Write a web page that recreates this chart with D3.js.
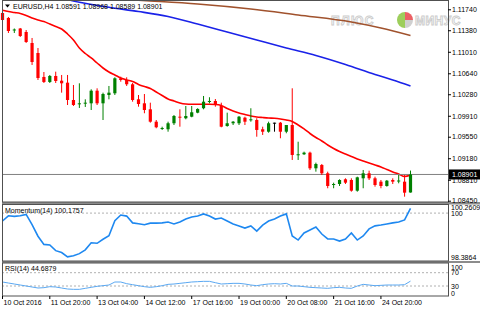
<!DOCTYPE html>
<html>
<head>
<meta charset="utf-8">
<script src="https://cdn.jsdelivr.net/npm/d3@7/dist/d3.min.js"></script>
<style>
  html, body { margin: 0; padding: 0; background: #fff; }
  svg text { font-family: "Liberation Sans", Arial, sans-serif; }
</style>
</head>
<body>
<div id="chart"></div>
<script>
// EURUSD H4 candles (bar index 0..69)
var open = [
1.11677, 1.11591, 1.11376, 1.11410, 1.11350, 1.11161, 1.10989, 1.10577, 1.10491, 1.10594,
1.10513, 1.10479, 1.10181, 1.10112, 1.10124, 1.10124, 1.10341, 1.10124, 1.10267, 1.10296,
1.10554, 1.10525, 1.10451, 1.10193, 1.10124, 1.10021, 1.09808, 1.09691, 1.09678, 1.09781,
1.09894, 1.09867, 1.09894, 1.09963, 1.10039, 1.10152, 1.10164, 1.10078, 1.09734, 1.09781,
1.09781, 1.09877, 1.09832, 1.09837, 1.09678, 1.09636, 1.09791, 1.09791, 1.09636, 1.09751,
1.09236, 1.09248, 1.09276, 1.09007, 1.09064, 1.08921, 1.08720, 1.08737, 1.08818, 1.08806,
1.08622, 1.08835, 1.08921, 1.08835, 1.08777, 1.08703, 1.08806, 1.08789, 1.08777, 1.08591];
var high = [
1.11728, 1.11608, 1.11410, 1.11419, 1.11384, 1.11247, 1.11075, 1.10662, 1.10611, 1.10668,
1.10611, 1.10611, 1.10439, 1.10468, 1.10193, 1.10365, 1.10382, 1.10307, 1.10422, 1.10571,
1.10582, 1.10571, 1.10473, 1.10267, 1.10284, 1.10135, 1.09837, 1.09722, 1.09808, 1.09923,
1.10021, 1.10078, 1.10078, 1.10039, 1.10250, 1.10228, 1.10198, 1.10135, 1.09963, 1.09820,
1.09906, 1.09894, 1.10039, 1.09867, 1.09722, 1.09808, 1.09791, 1.09803, 1.09683, 1.10382,
1.09464, 1.09293, 1.09293, 1.09104, 1.09081, 1.08949, 1.08760, 1.08818, 1.08835, 1.08835,
1.08863, 1.08978, 1.08966, 1.08863, 1.08806, 1.08806, 1.08835, 1.08892, 1.08892, 1.08968];
var low = [
1.11522, 1.11333, 1.11333, 1.11264, 1.11161, 1.10783, 1.10525, 1.10473, 1.10473, 1.10473,
1.10307, 1.10095, 1.10078, 1.10044, 1.10061, 1.10009, 1.10095, 1.09837, 1.10193, 1.10267,
1.10496, 1.10422, 1.10152, 1.10066, 1.09953, 1.09791, 1.09695, 1.09666, 1.09636, 1.09751,
1.09722, 1.09849, 1.09884, 1.09953, 1.10021, 1.10124, 1.10066, 1.09712, 1.09722, 1.09751,
1.09751, 1.09751, 1.09808, 1.09550, 1.09580, 1.09619, 1.09636, 1.09523, 1.09609, 1.09150,
1.09150, 1.09236, 1.08978, 1.08949, 1.08892, 1.08664, 1.08664, 1.08703, 1.08737, 1.08605,
1.08605, 1.08664, 1.08806, 1.08691, 1.08664, 1.08691, 1.08737, 1.08749, 1.08519, 1.08589];
var close = [
1.11556, 1.11367, 1.11393, 1.11281, 1.11178, 1.10834, 1.10559, 1.10491, 1.10594, 1.10508,
1.10468, 1.10181, 1.10095, 1.10124, 1.10135, 1.10341, 1.10124, 1.10284, 1.10307, 1.10554,
1.10525, 1.10451, 1.10181, 1.10112, 1.10009, 1.09808, 1.09712, 1.09700, 1.09781, 1.09906,
1.09877, 1.09906, 1.09970, 1.10027, 1.10152, 1.10164, 1.10095, 1.09722, 1.09781, 1.09808,
1.09894, 1.09808, 1.09849, 1.09666, 1.09636, 1.09781, 1.09791, 1.09636, 1.09751, 1.09236,
1.09248, 1.09276, 1.09007, 1.09081, 1.08921, 1.08703, 1.08737, 1.08806, 1.08760, 1.08622,
1.08852, 1.08921, 1.08835, 1.08720, 1.08703, 1.08794, 1.08777, 1.08797, 1.08588, 1.08901];

// red moving average, one value per bar
var maRed = [
1.11723, 1.11702, 1.11685, 1.11668, 1.11634, 1.11591, 1.11556, 1.11530, 1.11487, 1.11445,
1.11402, 1.11316, 1.11212, 1.11075, 1.10980, 1.10903, 1.10817, 1.10731, 1.10662, 1.10611,
1.10559, 1.10525, 1.10499, 1.10448, 1.10413, 1.10379, 1.10319, 1.10259, 1.10198, 1.10164,
1.10130, 1.10112, 1.10107, 1.10107, 1.10107, 1.10107, 1.10104, 1.10087, 1.10035, 1.09992,
1.09958, 1.09932, 1.09906, 1.09889, 1.09880, 1.09872, 1.09867, 1.09855, 1.09837, 1.09812,
1.09751, 1.09683, 1.09605, 1.09537, 1.09477, 1.09408, 1.09348, 1.09296, 1.09253, 1.09210,
1.09167, 1.09133, 1.09098, 1.09064, 1.09030, 1.08987, 1.08944, 1.08909, 1.08866, 1.08892];

// slow averages, only where they are visible: bar index and value
var maBlueIdx = [11, 13, 18, 23, 28, 33, 38, 43, 48, 53, 58, 63, 66, 69];
var maBlue = [1.11909, 1.11860, 1.11775, 1.11702, 1.11616, 1.11487, 1.11350, 1.11212, 1.11075, 1.10946, 1.10791, 1.10620, 1.10525, 1.10422];
var maBrownIdx = [23, 25, 33, 42, 50, 59, 64, 69];
var maBrown = [1.11895, 1.11883, 1.11831, 1.11745, 1.11642, 1.11522, 1.11419, 1.11290];

var momentum = [
99.71, 99.90, 99.88, 99.90, 99.95, 99.58, 99.15, 98.85, 98.83, 98.62,
98.55, 98.39, 98.43, 98.51, 98.65, 98.91, 98.89, 99.04, 99.17, 99.72,
99.93, 99.89, 99.64, 99.61, 99.57, 99.63, 99.63, 99.64, 99.67, 99.60,
99.67, 99.78, 99.86, 99.89, 99.97, 99.89, 99.78, 99.82, 99.71, 99.60,
99.53, 99.45, 99.53, 99.34, 99.56, 99.71, 99.78, 99.89, 99.97, 99.16,
99.01, 99.27, 99.38, 99.49, 99.23, 99.05, 99.05, 98.97, 99.05, 99.27,
99.01, 99.16, 99.42, 99.53, 99.56, 99.60, 99.64, 99.67, 99.75, 100.1757];

var rsi = [
42, 39, 36, 33, 30, 27, 24, 25, 28, 27,
24, 21, 20, 20, 23, 26, 29, 31, 33, 42,
42, 37, 34, 31, 28, 26, 28, 31, 35, 36,
38, 40, 42, 43, 44, 44, 40, 36, 37, 38,
38, 36, 33, 31, 34, 36, 37, 36, 38, 30,
30, 28, 26, 25, 24, 23, 25, 26, 24, 23,
30, 35, 33, 31, 32, 33, 33, 33, 34, 44.6879];

var timeLabels = ["10 Oct 2016", "11 Oct 20:00", "13 Oct 04:00", "14 Oct 12:00", "17 Oct 16:00",
                  "19 Oct 00:00", "20 Oct 08:00", "21 Oct 16:00", "24 Oct 20:00"];
var timeLabelIdx = [0, 8, 16, 24, 32, 40, 48, 56, 64];
var priceTicks = [1.1174, 1.1138, 1.1101, 1.1064, 1.1028, 1.0991, 1.0955, 1.0918, 1.0881, 1.0845];
var momTicks = [100.2609, 100, 98.3864];
var rsiTicks = [100, 70, 30, 0];
var rsiLevels = [70, 30];
var lastPrice = 1.08901;

var W = 480, H = 310;
var left = 2, right = 448;
var main = { top: 0.5, bottom: 202 },
    mom = { top: 204.5, bottom: 261 },
    rsiP = { top: 263, bottom: 296 };

var svg = d3.select("#chart").append("svg")
    .attr("width", W)
    .attr("height", H);

svg.append("rect").attr("width", W).attr("height", H).attr("fill", "#fff");

var x = d3.scaleLinear().domain([0, 69]).range([2.5, 410.5]);
var y = d3.scaleLinear().domain([1.0845, 1.1174]).range([200.7, 9.3]);
var yMom = d3.scaleLinear().domain([98.3864, 100.2609]).range([257, 206]);
var yRsi = d3.scaleLinear().domain([0, 100]).range([296, 262.7]);

// watermark
var wm = svg.append("g").attr("opacity", 0.85);
wm.append("text").attr("x", 331).attr("y", 25)
    .attr("font-size", 12).attr("font-weight", "bold").attr("letter-spacing", 1.5)
    .attr("fill", "#fff").attr("stroke", "#c4c4c4").attr("stroke-width", 0.9)
    .text("ПЛЮС");
wm.append("text").attr("x", 415).attr("y", 25)
    .attr("font-size", 12).attr("font-weight", "bold").attr("letter-spacing", 0.5)
    .attr("fill", "#fff").attr("stroke", "#c4c4c4").attr("stroke-width", 0.9)
    .text("МИНУС");
var logo = [{ v: 2, c: "#8cc63f" }, { v: 1, c: "#e8454a" }, { v: 1, c: "#c8c8c8" }];
var pie = d3.pie().sort(null).startAngle(Math.PI).endAngle(3 * Math.PI).value(function (d) { return d.v; });
var logoArc = d3.arc().innerRadius(0).outerRadius(8);
wm.append("g").attr("transform", "translate(405,20)")
    .selectAll("path").data(pie(logo)).enter().append("path")
    .attr("d", logoArc).attr("fill", function (d) { return d.data.c; });

// moving averages
var lineRed = d3.line()
    .x(function (d, i) { return x(i); })
    .y(function (d) { return y(d); })
    .curve(d3.curveMonotoneX);
svg.append("path").attr("d", lineRed(maRed))
    .attr("fill", "none").attr("stroke", "#ff0000").attr("stroke-width", 1.6);

var lineIdx = d3.line()
    .x(function (d) { return x(d[0]); })
    .y(function (d) { return y(d[1]); })
    .curve(d3.curveMonotoneX);
svg.append("path").attr("d", lineIdx(d3.zip(maBlueIdx, maBlue)))
    .attr("fill", "none").attr("stroke", "#1a22e8").attr("stroke-width", 1.6);
svg.append("path").attr("d", lineIdx(d3.zip(maBrownIdx, maBrown)))
    .attr("fill", "none").attr("stroke", "#a0522d").attr("stroke-width", 1.6);

// current price line
svg.append("line")
    .attr("x1", left).attr("x2", right)
    .attr("y1", y(lastPrice)).attr("y2", y(lastPrice))
    .attr("stroke", "#808080").attr("stroke-width", 1);

// candles
var bars = d3.range(open.length).map(function (i) {
    return { i: i, o: open[i], h: high[i], l: low[i], c: close[i] };
});
function candleColor(d) {
    if (d.c > d.o) return "#008000";
    if (d.c < d.o) return "#ff0000";
    return "#000000";
}
var cg = svg.append("g");
cg.selectAll("line.wick").data(bars).enter().append("line")
    .attr("class", "wick")
    .attr("x1", function (d) { return x(d.i); })
    .attr("x2", function (d) { return x(d.i); })
    .attr("y1", function (d) { return y(d.h); })
    .attr("y2", function (d) { return y(d.l); })
    .attr("stroke", candleColor).attr("stroke-width", 1);
cg.selectAll("rect.body").data(bars).enter().append("rect")
    .attr("class", "body")
    .attr("x", function (d) { return x(d.i) - 1.6; })
    .attr("width", 3.2)
    .attr("y", function (d) { return y(Math.max(d.o, d.c)); })
    .attr("height", function (d) { return Math.max(1, Math.abs(y(d.o) - y(d.c))); })
    .attr("fill", candleColor);

// momentum panel
svg.append("line").attr("x1", left).attr("x2", right)
    .attr("y1", yMom(100)).attr("y2", yMom(100))
    .attr("stroke", "#b0b0b0").attr("stroke-dasharray", "2,2");
svg.append("path")
    .attr("d", d3.line().x(function (d, i) { return x(i); }).y(function (d) { return yMom(d); })(momentum))
    .attr("fill", "none").attr("stroke", "#1e88f0").attr("stroke-width", 1.6);

// rsi panel
svg.selectAll("line.rsilvl").data(rsiLevels).enter().append("line")
    .attr("class", "rsilvl")
    .attr("x1", left).attr("x2", right)
    .attr("y1", function (d) { return yRsi(d); })
    .attr("y2", function (d) { return yRsi(d); })
    .attr("stroke", "#b0b0b0").attr("stroke-dasharray", "2,2");
svg.append("path")
    .attr("d", d3.line().x(function (d, i) { return x(i); }).y(function (d) { return yRsi(d); })(rsi))
    .attr("fill", "none").attr("stroke", "#5aa8f2").attr("stroke-width", 1);

// panel frames + separators
svg.append("rect").attr("x", left).attr("y", main.bottom)
    .attr("width", W - left).attr("height", mom.top - main.bottom).attr("fill", "#8c8c8c");
svg.append("rect").attr("x", left).attr("y", mom.bottom)
    .attr("width", W - left).attr("height", rsiP.top - mom.bottom).attr("fill", "#8c8c8c");
[main, mom, rsiP].forEach(function (p) {
    svg.append("rect")
        .attr("x", left + 0.5).attr("y", p.top)
        .attr("width", right - left).attr("height", p.bottom - p.top)
        .attr("fill", "none").attr("stroke", "#505050").attr("stroke-width", 1);
});

// right price axis
var axisG = svg.append("g").attr("transform", "translate(" + right + ",0)")
    .call(d3.axisRight(y).tickValues(priceTicks).tickSize(3).tickPadding(1)
        .tickFormat(d3.format(".5f")));
axisG.select(".domain").remove();
axisG.selectAll("text").attr("font-size", 7).attr("font-family", "Liberation Sans, Arial, sans-serif").attr("fill", "#000");
axisG.selectAll("line").attr("stroke", "#000");

// current price box
svg.append("rect").attr("x", right + 1).attr("y", y(lastPrice) - 5)
    .attr("width", W - right - 1).attr("height", 10).attr("fill", "#000");
svg.append("text").attr("x", right + 4).attr("y", y(lastPrice) + 2.5)
    .attr("font-size", 7).attr("fill", "#fff").text(d3.format(".5f")(lastPrice));

// sub-window scale labels (kept inside the window like MT4)
function sideLabels(ticks, scale, p, fmt, pad) {
    svg.selectAll(null).data(ticks).enter().append("text")
        .attr("x", right + 3)
        .attr("y", function (d) {
            return Math.max(p.top + pad, Math.min(p.bottom - 3, scale(d))) + 2.5;
        })
        .attr("font-size", 7).attr("fill", "#000")
        .text(fmt);
}
sideLabels(momTicks, yMom, mom, function (d) { return d === 100 ? "100" : d3.format(".4f")(d); }, 2.5);
sideLabels(rsiTicks, yRsi, rsiP, function (d) { return d; }, 4);

// time axis
svg.selectAll("line.xt").data(timeLabelIdx).enter().append("line")
    .attr("class", "xt")
    .attr("x1", function (d) { return x(d); }).attr("x2", function (d) { return x(d); })
    .attr("y1", rsiP.bottom).attr("y2", rsiP.bottom + 3)
    .attr("stroke", "#000");
svg.selectAll("text.xl").data(timeLabels).enter().append("text")
    .attr("class", "xl")
    .attr("x", function (d, i) { return x(timeLabelIdx[i]) + 1; })
    .attr("y", 305)
    .attr("font-size", 7).attr("fill", "#000")
    .text(function (d) { return d; });

// titles
svg.append("path").attr("d", "M5,4.5 L10,4.5 L7.5,7.5 Z").attr("fill", "#000");
svg.append("text").attr("x", 13).attr("y", 8.5).attr("font-size", 7).attr("fill", "#000")
    .text("EURUSD,H4  " + [open[69], high[69], low[69], close[69]].map(d3.format(".5f")).join(" "));
svg.append("text").attr("x", 5).attr("y", 213).attr("font-size", 7).attr("fill", "#000")
    .text("Momentum(14) " + d3.format(".4f")(momentum[69]));
svg.append("text").attr("x", 5).attr("y", 271).attr("font-size", 7).attr("fill", "#000")
    .text("RSI(14) " + d3.format(".4f")(rsi[69]));
</script>
</body>
</html>
